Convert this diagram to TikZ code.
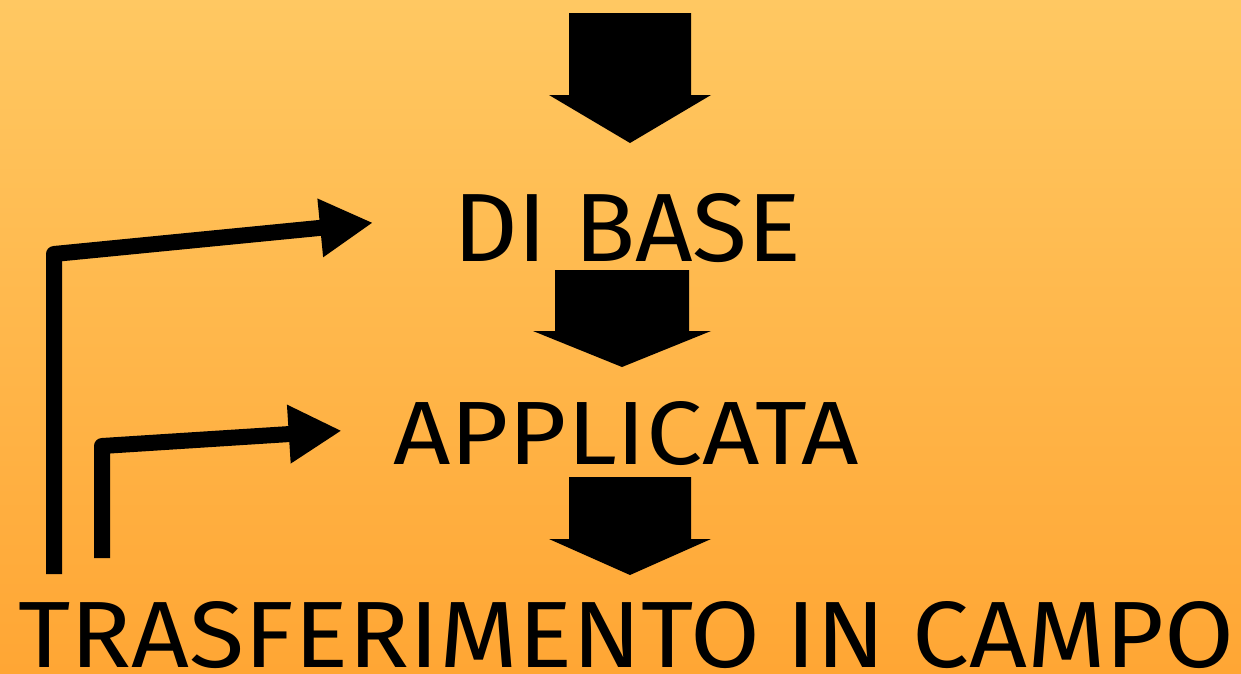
\documentclass[tikz,border=0pt]{standalone}
\usepackage{fontspec}
\setmainfont{Fira Sans}
\usepackage{graphicx}
\usetikzlibrary{arrows.meta}
\definecolor{bgtop}{RGB}{255,200,98}
\definecolor{bgbot}{RGB}{255,166,52}
\newcommand{\downblock}[6]{% center x, top y, shaft half, shoulder y, head half, tip y
  \fill[blockfill] (#1-#3,#2) -- (#1+#3,#2) -- (#1+#3,#4) -- (#1+#5,#4) -- (#1,#6)
    -- (#1-#5,#4) -- (#1-#3,#4) -- cycle;}
\begin{document}
\begin{tikzpicture}[x=1pt,y=-1pt,
  blockfill/.style={fill=black},
  bent/.style={draw=black, line width=16pt, line join=round, line cap=butt,
    -{Triangle[length=53pt,width=55pt]}},
  lbl/.style={inner sep=0pt, anchor=north west, text=black}]
\useasboundingbox (0,0) rectangle (1241,673);
\fill[top color=bgtop, bottom color=bgbot] (0,0) rectangle (1241,673);
% labels
\node[lbl] (dibase) at (453,193) {\resizebox{348pt}{68pt}{DI BASE}};
\node[lbl] (appl) at (393,401) {\resizebox{466pt}{63pt}{APPLICATA}};
\node[lbl] (trasf) at (18,601) {\resizebox{1216pt}{66pt}{TRASFERIMENTO IN CAMPO}};
% block arrows
\downblock{630}{13}{61}{95}{81}{143}
\downblock{622}{270}{67}{331}{89}{367}
\downblock{630}{477}{61}{539}{81}{575}
% bent arrows
\coordinate (s1) at (54,574);
\coordinate (c1) at (54,254);
\coordinate (t1) at (373,222.7);
\coordinate (s2) at (102,558);
\coordinate (c2) at (102,446);
\coordinate (t2) at (341.7,430.7);
\draw[bent] (s1) -- (c1) -- (t1);
\draw[bent] (s2) -- (c2) -- (t2);
\end{tikzpicture}
\end{document}
